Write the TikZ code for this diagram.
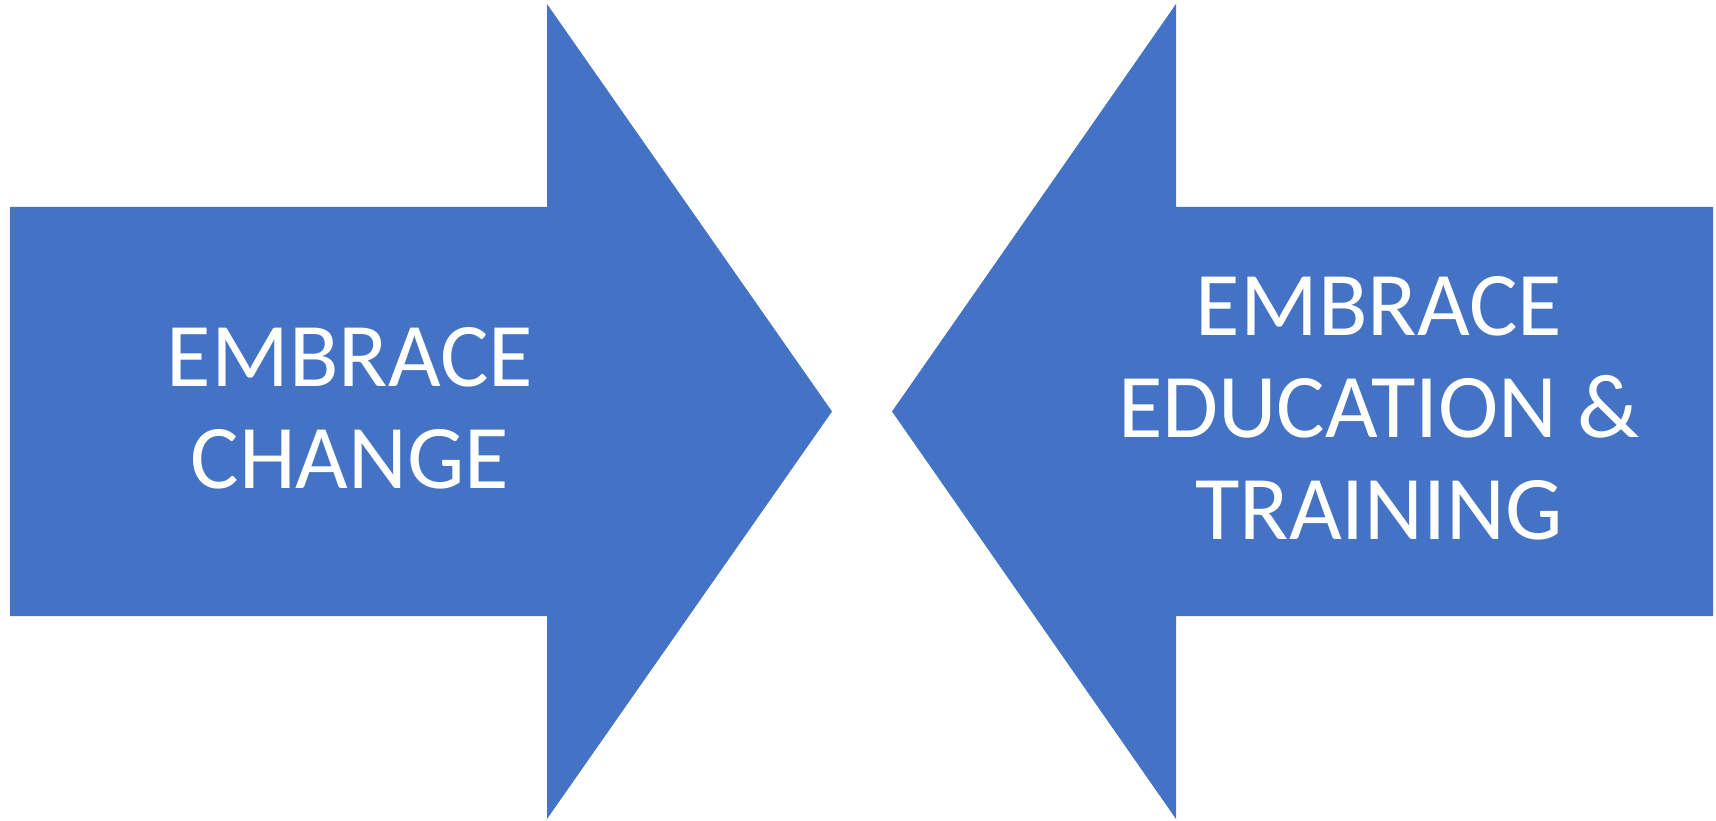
\documentclass[tikz,border=0pt]{standalone}
\usepackage{fontspec}
\setmainfont{Carlito}
\definecolor{arrowblue}{HTML}{4472C4}
\tikzset{
  arrowtext/.style={text=white, align=center, inner sep=0pt, font=\fontsize{91}{102}\selectfont}
}
\begin{document}
\begin{tikzpicture}[x=1pt, y=-1pt]
        \useasboundingbox (0,0) rectangle (1716,821);
        % left arrow
        \fill[arrowblue] (10,207) -- (547,207) -- (547,4) -- (832,411.5) -- (547,819) -- (547,616) -- (10,616) -- cycle;
        % right arrow
        \fill[arrowblue] (1713,207) -- (1176,207) -- (1176,4) -- (892,411.5) -- (1176,819) -- (1176,616) -- (1713,616) -- cycle;
        \node[arrowtext] (change) at (350,408) {EMBRACE\\CHANGE};
        \node[arrowtext] (training) at (1379,408) {EMBRACE\\EDUCATION \&\\TRAINING};
        \end{tikzpicture}
\end{document}
